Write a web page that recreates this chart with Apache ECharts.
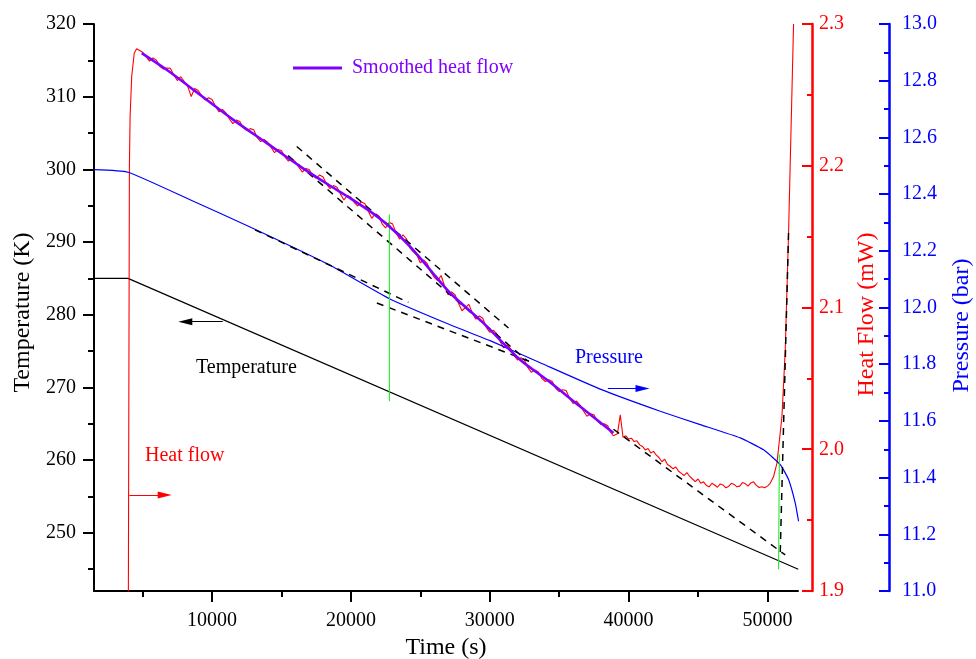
<!DOCTYPE html>
<html><head><meta charset="utf-8">
<script src="https://cdn.jsdelivr.net/npm/echarts@6/dist/echarts.min.js"></script>
<style>html,body{margin:0;padding:0;background:#fff}#c{width:976px;height:659px}</style>
</head><body><div id="c"></div>
<script>
// ---- axis tick values ----
const timeTicks = [10000, 20000, 30000, 40000, 50000];
const timeMinorTicks = [5000, 15000, 25000, 35000, 45000];
const tempTicks = [250, 260, 270, 280, 290, 300, 310, 320];
const tempMinorTicks = [245, 255, 265, 275, 285, 295, 305, 315];

// ---- series data [time (s), value] ----
const temperatureData = [[1500, 285], [3950, 285], [52220, 245.0]];

const pressureData = [
  [1500, 12.486], [3950, 12.477], [8415, 12.380], [12738, 12.284], [18501, 12.149],
  [22774, 12.031], [27147, 11.939], [30029, 11.883], [33631, 11.805], [37954, 11.712],
  [42277, 11.634], [45159, 11.587], [48041, 11.540], [49719, 11.498], [50922, 11.446],
  [51520, 11.393], [52002, 11.310], [52240, 11.246]
];

const heatFlowData = [
  [3970, 1.88], [4050, 2.200], [4100, 2.2348], [4215, 2.263], [4400, 2.2795], [4575, 2.2826],
  [5000, 2.2801], [5250, 2.2770], [5500, 2.2738], [5750, 2.2760], [6000, 2.2745], [6250, 2.2700],
  [6500, 2.2682], [6750, 2.2690], [7000, 2.2688], [7250, 2.2640], [7500, 2.2601], [7750, 2.2628],
  [8000, 2.2594], [8250, 2.2560], [8500, 2.2488], [8750, 2.2545], [9000, 2.2531], [9250, 2.2495],
  [9500, 2.2464], [9750, 2.2480], [10000, 2.2467], [10250, 2.2420], [10500, 2.2380], [10750, 2.2398],
  [11000, 2.2373], [11250, 2.2330], [11500, 2.2297], [11750, 2.2322], [12000, 2.2312], [12250, 2.2270],
  [12500, 2.2248], [12750, 2.2262], [13000, 2.2254], [13250, 2.2200], [13500, 2.2170], [13750, 2.2185],
  [14000, 2.2166], [14250, 2.2130], [14500, 2.2092], [14750, 2.2115], [15000, 2.2108], [15250, 2.2062],
  [15500, 2.2033], [15750, 2.2048], [16000, 2.2029], [16250, 2.1990], [16500, 2.1956], [16750, 2.1980],
  [17000, 2.1974], [17250, 2.1930], [17500, 2.1912], [17750, 2.1935], [18000, 2.1921], [18250, 2.1870],
  [18500, 2.1839], [18750, 2.1860], [19000, 2.1849], [19250, 2.1800], [19500, 2.1759], [19750, 2.1790],
  [20000, 2.1778], [20250, 2.1740], [20500, 2.1716], [20750, 2.1745], [21000, 2.1733], [21250, 2.1680],
  [21500, 2.1629], [21750, 2.1660], [22000, 2.1645], [22250, 2.1590], [22500, 2.1561], [22750, 2.1600],
  [23000, 2.1590], [23250, 2.1530], [23500, 2.1483], [23750, 2.1512], [24000, 2.1485], [24250, 2.1420],
  [24500, 2.1393], [24750, 2.1370], [25000, 2.1316], [25250, 2.1335], [25500, 2.1309], [25750, 2.1250],
  [26000, 2.1213], [26250, 2.1190], [26500, 2.1226], [26750, 2.1150], [27000, 2.1089], [27250, 2.1110],
  [27500, 2.1091], [27750, 2.1030], [28000, 2.0977], [28250, 2.1000], [28500, 2.1022], [28750, 2.0960],
  [29000, 2.0918], [29250, 2.0940], [29500, 2.0924], [29750, 2.0860], [30000, 2.0825], [30250, 2.0840],
  [30500, 2.0815], [30750, 2.0760], [31000, 2.0715], [31250, 2.0735], [31500, 2.0710], [31750, 2.0660],
  [32000, 2.0630], [32250, 2.0645], [32500, 2.0628], [32750, 2.0575], [33000, 2.0542], [33250, 2.0560],
  [33500, 2.0545], [33750, 2.0500], [34000, 2.0478], [34250, 2.0490], [34500, 2.0478], [34750, 2.0430],
  [35000, 2.0407], [35250, 2.0420], [35500, 2.0414], [35750, 2.0360], [36000, 2.0323], [36250, 2.0340],
  [36500, 2.0312], [36750, 2.0270], [37000, 2.0233], [37250, 2.0250], [37500, 2.0244], [37750, 2.0200],
  [38000, 2.0175], [38250, 2.0180], [38500, 2.0166], [38700, 2.0120], [38900, 2.0095], [39200, 2.0110],
  [39400, 2.0243], [39600, 2.0085], [39800, 2.0095], [40000, 2.0072], [40200, 2.0078], [40400, 2.0054],
  [40600, 2.0060], [40800, 2.0031], [41000, 2.0020], [41200, 1.9995], [41400, 2.0005], [41600, 1.9973],
  [41800, 1.9985], [42000, 1.9958], [42200, 1.9940], [42400, 1.9912], [42600, 1.9930], [42800, 1.9893],
  [43000, 1.9880], [43200, 1.9862], [43400, 1.9875], [43600, 1.9845], [43800, 1.9830], [44000, 1.9815],
  [44200, 1.9835], [44400, 1.9808], [44600, 1.9790], [44800, 1.9772], [45000, 1.9790], [45200, 1.9760],
  [45400, 1.9770], [45600, 1.9745], [45800, 1.9735], [46000, 1.9760], [46200, 1.9748], [46400, 1.9732],
  [46600, 1.9755], [46800, 1.9748], [47000, 1.9728], [47200, 1.9738], [47400, 1.9760], [47600, 1.9752],
  [47800, 1.9735], [48000, 1.9740], [48200, 1.9765], [48400, 1.9758], [48600, 1.9740], [48800, 1.9762],
  [49000, 1.9770], [49200, 1.9745], [49400, 1.9730], [49600, 1.9735], [49800, 1.9728], [50000, 1.9740],
  [50200, 1.9760], [50440, 1.9807], [50684, 1.9902], [51045, 2.0231], [51282, 2.0701], [51520, 2.1525],
  [51880, 2.3000]
];

const smoothedHeatFlowData = [
  [4935, 2.2795], [6736, 2.2677], [9135, 2.2501], [11535, 2.2324], [13941, 2.2160],
  [16340, 2.1996], [18501, 2.1859], [19942, 2.1772], [21383, 2.1678], [22774, 2.1572],
  [24265, 2.1430], [25706, 2.1266], [27147, 2.1102], [29546, 2.0890], [32190, 2.0631],
  [34114, 2.0490], [36513, 2.0301], [38912, 2.0114]
];

// dashed guide lines (heat flow axis)
const hfTangentUpper = [[16100, 2.2136], [31350, 2.0855]];
const hfChordLower = [[15480, 2.2071], [32700, 2.0624]];
const hfLateTangent = [[38910, 2.0141], [51280, 1.9255]];
const hfRiseTangent = [[51520, 2.1525], [50920, 1.9265]];
// dashed guide lines (pressure axis)
const pTangentEarly = [[13100, 12.274], [24140, 12.018]];
const pTangentLate = [[21870, 12.016], [32910, 11.809]];
// green markers (temperature axis)
const greenMarker1 = [[22774, 293.8], [22774, 268.1]];
const greenMarker2 = [[50860, 260.8], [50800, 245.0]];
// arrows (temperature axis) [from, to]
const arrowTemperature = [[10771, 279.04], [8077, 279.04]];
const arrowHeatFlow = [[4042, 255.2], [6592, 255.2]];
const arrowPressure = [[38510, 269.87], [41000, 269.87]];

const F = '"Liberation Serif", "Times New Roman", serif';
const chart = echarts.init(document.getElementById('c'), null, {renderer: 'canvas'});

function guide(data, yIdx, color, dashed) {
  return {
    type: 'line', data: data, xAxisIndex: 0, yAxisIndex: yIdx, symbol: 'none', silent: true,
    lineStyle: {color: color, width: dashed ? 1.5 : 1.1, type: dashed ? [7, 6] : 'solid'}, z: 5
  };
}
function arrow(pts, color) {
  return [
    {coord: pts[0], symbol: 'none', lineStyle: {color: color, width: 1.2, type: 'solid'}},
    {coord: pts[1], symbol: 'triangle', symbolSize: [7, 14]}
  ];
}

const option = {
  animation: false,
  backgroundColor: '#fff',
  grid: {left: 94, right: 178, top: 24, bottom: 68, containLabel: false, outerBoundsMode: 'none'},
  legend: {
    data: ['Smoothed heat flow'], left: 293, top: 58, padding: 0,
    icon: 'rect', itemWidth: 49, itemHeight: 3,
    textStyle: {color: '#8000ff', fontSize: 20, fontFamily: F, padding: [0, 0, 0, 5]}
  },
  xAxis: [
    {
      type: 'value', min: 1500, max: 52200, position: 'bottom',
      name: 'Time (s)', nameLocation: 'middle', nameGap: 38,
      nameTextStyle: {color: '#000', fontSize: 24, fontFamily: F},
      axisLine: {show: true, onZero: false, lineStyle: {color: '#000', width: 2}},
      axisTick: {customValues: timeTicks, length: 11, lineStyle: {color: '#000', width: 2}},
      axisLabel: {customValues: timeTicks, color: '#000', fontSize: 20, fontFamily: F, margin: 20,
                  formatter: v => String(v)},
      splitLine: {show: false}
    },
    {
      type: 'value', min: 1500, max: 52200, position: 'bottom',
      axisLine: {show: false},
      axisTick: {customValues: timeMinorTicks, length: 6, lineStyle: {color: '#000', width: 2}},
      axisLabel: {show: false}, splitLine: {show: false}
    }
  ],
  yAxis: [
    {
      type: 'value', min: 242, max: 320, position: 'left',
      name: 'Temperature (K)', nameLocation: 'middle', nameRotate: 90, nameGap: 56,
      nameTextStyle: {color: '#000', fontSize: 24, fontFamily: F, padding: [0, 10, 0, 0]},
      axisLine: {show: true, onZero: false, lineStyle: {color: '#000', width: 2}},
      axisTick: {customValues: tempTicks, length: 11, lineStyle: {color: '#000', width: 2}},
      axisLabel: {customValues: tempTicks, color: '#000', fontSize: 20, fontFamily: F, margin: 18},
      splitLine: {show: false}
    },
    {
      type: 'value', min: 242, max: 320, position: 'left',
      axisLine: {show: false},
      axisTick: {customValues: tempMinorTicks, length: 6, lineStyle: {color: '#000', width: 2}},
      axisLabel: {show: false}, splitLine: {show: false}
    },
    {
      type: 'value', min: 1.9, max: 2.3, interval: 0.1, position: 'right', offset: 14,
      name: 'Heat Flow (mW)', nameLocation: 'middle', nameRotate: 90, nameGap: 32,
      nameTextStyle: {color: '#ff0000', fontSize: 24, fontFamily: F, padding: [0, 14, 0, 0]},
      axisLine: {show: true, onZero: false, lineStyle: {color: '#ff0000', width: 2.5}},
      axisTick: {inside: true, length: 10, lineStyle: {color: '#ff0000', width: 2}},
      minorTick: {show: true, splitNumber: 2, length: 5, lineStyle: {color: '#ff0000', width: 2}},
      axisLabel: {color: '#ff0000', fontSize: 20, fontFamily: F, margin: 7, formatter: v => v.toFixed(1)},
      splitLine: {show: false}, minorSplitLine: {show: false}
    },
    {
      type: 'value', min: 11, max: 13, interval: 0.2, position: 'right', offset: 91,
      name: 'Pressure (bar)', nameLocation: 'middle', nameRotate: 90, nameGap: 61,
      nameTextStyle: {color: '#0000ff', fontSize: 24, fontFamily: F, padding: [0, 36, 0, 0]},
      axisLine: {show: true, onZero: false, lineStyle: {color: '#0000ff', width: 2.5}},
      axisTick: {inside: true, length: 10, lineStyle: {color: '#0000ff', width: 2}},
      minorTick: {show: true, splitNumber: 2, length: 5, lineStyle: {color: '#0000ff', width: 2}},
      axisLabel: {color: '#0000ff', fontSize: 20, fontFamily: F, margin: 13, formatter: v => v.toFixed(1)},
      splitLine: {show: false}, minorSplitLine: {show: false}
    }
  ],
  series: [
    {
      name: 'Temperature', type: 'line', data: temperatureData, xAxisIndex: 0, yAxisIndex: 0,
      symbol: 'none', lineStyle: {color: '#000', width: 1.2}, z: 3,
      markLine: {
        silent: true, animation: false, label: {show: false},
        symbol: ['none', 'triangle'],
        data: [
          arrow(arrowTemperature, '#000'),
          arrow(arrowHeatFlow, '#ff0000'),
          arrow(arrowPressure, '#0000ff')
        ]
      }
    },
    {
      name: 'Heat flow', type: 'line', data: heatFlowData, xAxisIndex: 0, yAxisIndex: 2,
      symbol: 'none', lineStyle: {color: '#ff0000', width: 1.1}, z: 3
    },
    {
      name: 'Pressure', type: 'line', data: pressureData, xAxisIndex: 0, yAxisIndex: 3,
      symbol: 'none', smooth: 0.15, lineStyle: {color: '#0000ff', width: 1.2}, z: 3
    },
    guide(hfTangentUpper, 2, '#000', true),
    guide(hfChordLower, 2, '#000', true),
    guide(hfLateTangent, 2, '#000', true),
    guide(hfRiseTangent, 2, '#000', true),
    guide(pTangentEarly, 3, '#000', true),
    guide(pTangentLate, 3, '#000', true),
    {
      name: 'Smoothed heat flow', type: 'line', data: smoothedHeatFlowData, xAxisIndex: 0, yAxisIndex: 2,
      symbol: 'none', smooth: 0.3, color: '#8000ff', lineStyle: {color: '#8000ff', width: 2.6}, z: 6
    },
    guide(greenMarker1, 0, '#22ee22', false),
    guide(greenMarker2, 0, '#22ee22', false)
  ],
  graphic: [
    {type: 'text', x: 196, y: 368, style: {text: 'Temperature', fill: '#000', font: '20px ' + F, verticalAlign: 'middle'}},
    {type: 'text', x: 145, y: 456, style: {text: 'Heat flow', fill: '#ff0000', font: '20px ' + F, verticalAlign: 'middle'}},
    {type: 'text', x: 575, y: 358, style: {text: 'Pressure', fill: '#0000ff', font: '20px ' + F, verticalAlign: 'middle'}}
  ]
};
chart.setOption(option);
</script></body></html>
